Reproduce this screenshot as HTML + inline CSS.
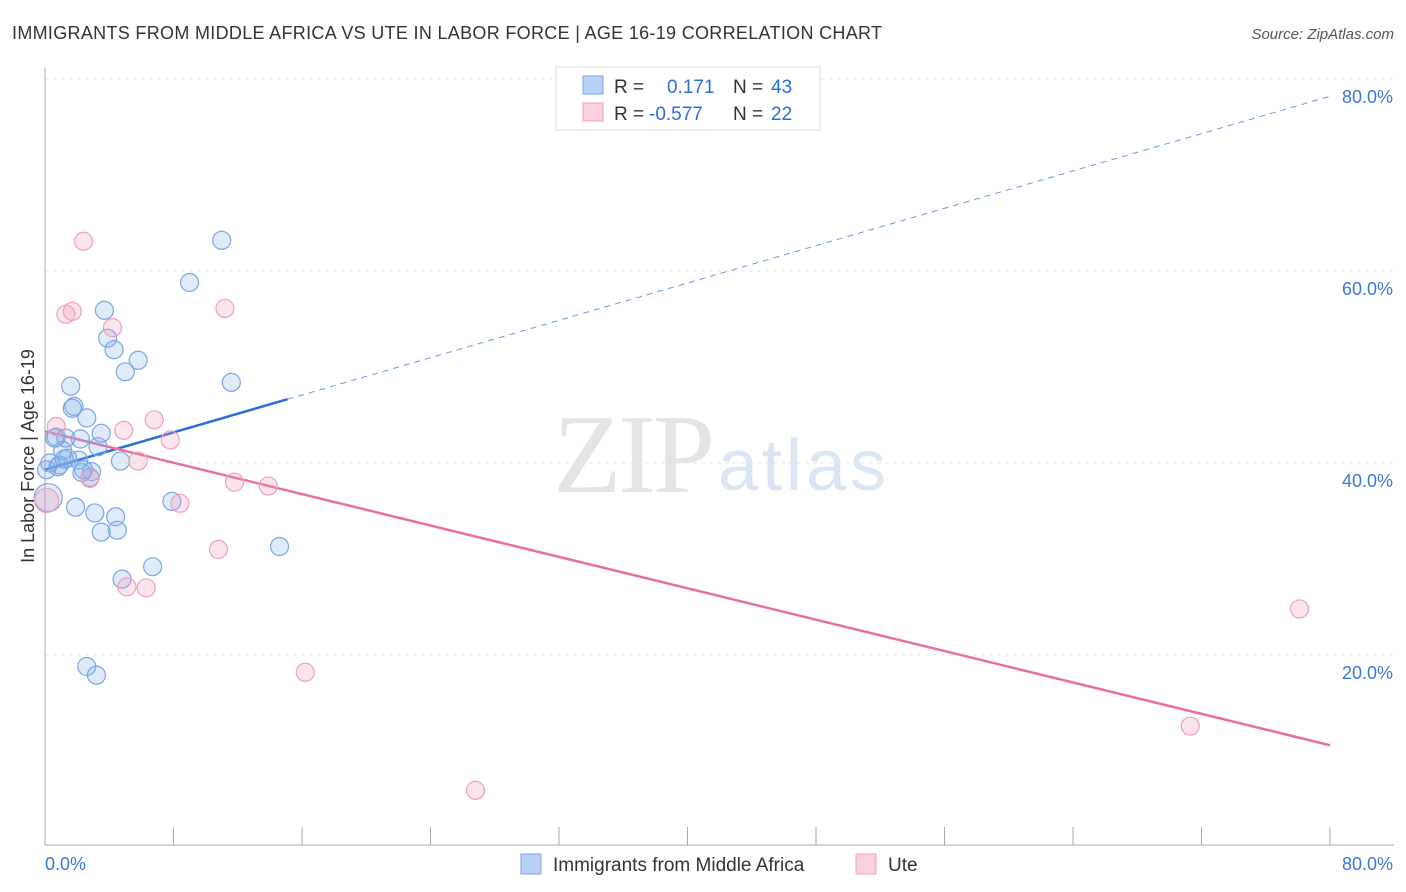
<!DOCTYPE html>
<html><head><meta charset="utf-8"><style>
body{margin:0;background:#fff;font-family:"Liberation Sans",sans-serif;}
svg{display:block}
</style></head><body>
<svg id="chart" width="1406" height="892">
<text x="12" y="39" font-size="18" fill="#333" textLength="870">IMMIGRANTS FROM MIDDLE AFRICA VS UTE IN LABOR FORCE | AGE 16-19 CORRELATION CHART</text>
<text x="1394" y="39" font-size="15" fill="#555" font-style="italic" text-anchor="end">Source: ZipAtlas.com</text>
<text x="553" y="492" font-size="112" fill="#e4e4e4" font-family="Liberation Serif,serif" textLength="162">ZIP</text>
<text x="718" y="490" font-size="72" fill="#dbe6f5" textLength="168">atlas</text>
<g id="grid"></g><g id="axes"></g><g id="lines"></g><g id="pts"></g>
<text transform="translate(34,456) rotate(-90)" font-size="18" fill="#333" text-anchor="middle">In Labor Force | Age 16-19</text>
<g>
<rect x="556" y="67" width="264" height="63" fill="#fff" stroke="#ddd"/>
<rect x="583" y="76" width="20" height="18" fill="#b8d0f5" stroke="#7aa6e6"/>
<rect x="583" y="103" width="20" height="18" fill="#fbd0dd" stroke="#f0a0bb"/>
<text x="614" y="93" font-size="19" fill="#333">R = <tspan x="667" fill="#2a6fd6">0.171</tspan><tspan x="733" fill="#333">N = </tspan><tspan x="771" fill="#2a6fd6">43</tspan></text>
<text x="614" y="120" font-size="19" fill="#333">R = <tspan x="649" fill="#2a6fd6">-0.577</tspan><tspan x="733" fill="#333">N = </tspan><tspan x="771" fill="#2a6fd6">22</tspan></text>
</g>
<g>
<rect x="521" y="854" width="20" height="20" fill="#b8d0f5" stroke="#7aa6e6"/>
<text x="553" y="871" font-size="19" fill="#333">Immigrants from Middle Africa</text>
<rect x="856" y="854" width="20" height="20" fill="#fbd0dd" stroke="#f0a0bb"/>
<text x="888" y="871" font-size="19" fill="#333">Ute</text>
</g>
</svg>
<script>
const blueX=[11.0,9.0,3.7,3.9,4.3,5.8,5.0,11.6,1.6,1.7,1.8,2.6,0.7,1.3,2.2,3.5,3.3,1.1,1.4,0.3,2.1,0.8,4.7,2.9,2.3,2.8,7.9,1.9,3.1,4.4,4.5,3.5,4.8,6.7,14.6,2.6,3.2,0.2,0.6,0.9,2.4,0.1,1.2];
const blueY=[63.2,58.8,55.9,53.0,51.8,50.7,49.5,48.4,48.0,45.7,45.9,44.7,42.7,42.6,42.5,43.1,41.7,41.3,40.5,40.0,40.3,39.6,40.2,39.1,39.0,38.5,36.0,35.4,34.8,34.4,33.0,32.8,27.9,29.2,31.3,18.8,17.9,36.4,42.6,39.8,39.3,39.3,40.4];
const pinkX=[2.4,1.3,1.7,4.2,11.2,6.8,4.9,0.7,7.8,5.8,2.8,11.8,13.9,8.4,10.8,5.1,6.3,16.2,26.8,78.1,71.3,0.1];
const pinkY=[63.1,55.5,55.8,54.1,56.1,44.5,43.4,43.8,42.4,40.2,38.4,38.0,37.6,35.8,31.0,27.1,27.0,18.2,5.9,24.8,12.6,36.1];
const blueTrend=[39.3,78.2]; const blueSolidEnd=15.1;
const pinkTrend=[43.3,10.6];
const yTicks=[20,40,60,80];
const xTickLabels=["0.0%","80.0%"];
const NS="http://www.w3.org/2000/svg";
const X=v=>45+v*1285/80, Y=v=>847-v*9.6;
function mk(p,t,a){const e=document.createElementNS(NS,t);for(const k in a)e.setAttribute(k,a[k]);document.getElementById(p).appendChild(e);return e;}
yTicks.forEach(t=>{
 const g=mk('grid','line',{x1:45,x2:1394,y1:Y(t),y2:Y(t),stroke:'#e6e6e6','stroke-dasharray':'4,4'});
 
 
 const l=mk('axes','text',{x:1393,y:Y(t)+24,'font-size':18,fill:'#3a78d6','text-anchor':'end'});
 l.textContent=t.toFixed(1)+'%';
 
 
});
const ax=mk('axes','line',{x1:45,x2:45,y1:68,y2:845,stroke:'#aaa'});


const bx=mk('axes','line',{x1:45,x2:1394,y1:845,y2:845,stroke:'#aaa'});


for(let i=0;i<=10;i++){const tk=mk('axes','line',{x1:X(i*8),x2:X(i*8),y1:827,y2:845,stroke:'#aaa'});
 
 }
[[0,'start',45],[80,'end',1393]].forEach((d,i)=>{const t=mk('axes','text',{x:d[2],y:870,'font-size':18,fill:'#3a78d6','text-anchor':d[1]});t.textContent=xTickLabels[i];
 
 });
const by=v=>blueTrend[0]+(blueTrend[1]-blueTrend[0])*v/80;
const l1=mk('lines','line',{x1:X(0),y1:Y(by(0)),x2:X(blueSolidEnd),y2:Y(by(blueSolidEnd)),stroke:'#2a6fd6','stroke-width':2.5});


const l2=mk('lines','line',{x1:X(blueSolidEnd),y1:Y(by(blueSolidEnd)),x2:X(80),y2:Y(by(80)),stroke:'#6a9be0','stroke-width':1,'stroke-dasharray':'6,5'});


const l3=mk('lines','line',{x1:X(0),y1:Y(pinkTrend[0]),x2:X(80),y2:Y(pinkTrend[1]),stroke:'#e8709a','stroke-width':2.5});


blueX.forEach((x,i)=>{const c=mk('pts','circle',{cx:X(x),cy:Y(blueY[i]),r:i==37?14:9,fill:'rgba(130,175,235,0.25)',stroke:'#7aa6e6','stroke-width':1.2});
 
 });
pinkX.forEach((x,i)=>{const c=mk('pts','circle',{cx:X(x),cy:Y(pinkY[i]),r:i==21?12:9,fill:'rgba(240,150,180,0.25)',stroke:'#f0a0bb','stroke-width':1.2});
 
 });
</script>
</body></html>
